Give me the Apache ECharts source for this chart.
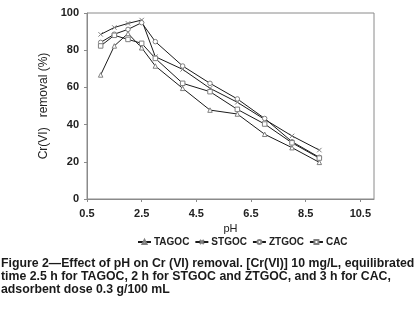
<!DOCTYPE html>
<html>
<head>
<meta charset="utf-8">
<script src="https://cdn.jsdelivr.net/npm/echarts@6/dist/echarts.min.js"></script>
<style>html,body{margin:0;padding:0;background:#fff}#c{width:418px;height:317px}</style>
</head>
<body>
<div id="c"></div>
<script>
const pH = [1, 1.5, 2, 2.5, 3, 4, 5, 6, 7, 8, 9];
const TAGOC = [66.7, 82.3, 89.0, 81.3, 71.5, 59.5, 47.8, 45.7, 34.8, 27.6, 19.7];
const STGOC = [88.5, 92.2, 94.4, 96.2, 76.5, 69.7, 59.5, 52.0, 42.8, 33.9, 26.3];
const ZTGOC = [84.2, 88.6, 91.2, 94.8, 84.6, 71.5, 62.2, 53.8, 43.3, 30.8, 22.4];
const CAC = [82.3, 88.0, 85.8, 83.7, 75.6, 62.2, 57.7, 48.2, 40.3, 30.2, 22.0];
const xTicks = [0.5, 2.5, 4.5, 6.5, 8.5, 10.5];
const yTicks = [0, 20, 40, 60, 80, 100];
const captionLines = [
  'Figure 2\u2014Effect of pH on Cr (VI) removal. [Cr(VI)] 10 mg/L, equilibrated',
  'time 2.5 h for TAGOC, 2 h for STGOC and ZTGOC, and 3 h for CAC,',
  'adsorbent dose 0.3 g/100 mL'
];

const chart = echarts.init(document.getElementById('c'));
const pair = arr => pH.map((x, i) => [x, arr[i]]);
const mk = (name, data, symbol) => ({
  name, type: 'line', data: pair(data), symbol, symbolSize: 4.5,
  lineStyle: { color: '#1a1a1a', width: 1 },
  itemStyle: { color: '#fff', borderColor: '#808080', borderWidth: 1 },
  emphasis: { disabled: true }, animation: false
});
const font = 'Liberation Sans, Arial, sans-serif';
chart.setOption({
  animation: false,
  grid: { left: 87, top: 13, width: 287, height: 186, show: true, borderColor: '#8a8a8a', borderWidth: 1 },
  xAxis: {
    type: 'value', min: 0.5, max: 11, interval: 2,
    name: 'pH', nameLocation: 'middle', nameGap: 21,
    nameTextStyle: { color: '#222', fontSize: 11, fontFamily: font },
    axisLine: { lineStyle: { color: '#8a8a8a' } },
    axisTick: { show: true, length: 3, lineStyle: { color: '#8a8a8a' } },
    axisLabel: { color: '#222', fontSize: 11, fontWeight: 'bold', fontFamily: font, margin: 9,
      showMaxLabel: false, formatter: v => xTicks.includes(+v.toFixed(1)) ? v.toFixed(1) : '' },
    splitLine: { show: false }
  },
  yAxis: {
    type: 'value', min: 0, max: 100, interval: 20,
    name: 'Cr(VI)   removal (%)', nameLocation: 'middle', nameGap: 24, nameRotate: 90,
    nameTextStyle: { color: '#222', fontSize: 12, fontFamily: font },
    axisLine: { show: true, lineStyle: { color: '#8a8a8a' } },
    axisTick: { show: true, length: 3, lineStyle: { color: '#8a8a8a' } },
    axisLabel: { color: '#222', fontSize: 11, fontWeight: 'bold', fontFamily: font, margin: 8,
      formatter: v => yTicks.includes(v) ? String(v) : '' },
    splitLine: { show: false }
  },
  legend: {
    left: 132, top: 232, itemWidth: 13, itemHeight: 5, itemGap: 5,
    textStyle: { color: '#222', fontSize: 10, fontWeight: 'bold', fontFamily: font, padding: [0,0,0,-2] },
    data: ['TAGOC', 'STGOC', 'ZTGOC', 'CAC']
  },
  series: [
    mk('TAGOC', TAGOC, 'triangle'),
    mk('STGOC', STGOC, 'path://M0,0L10,10M10,0L0,10'),
    mk('ZTGOC', ZTGOC, 'circle'),
    mk('CAC', CAC, 'rect')
  ],
  graphic: captionLines.map((t, i) => ({
    type: 'text', left: 1, top: 258 + i * 13,
    style: { text: t, fill: '#1a1a1a', font: 'bold 12.3px "Liberation Sans Narrow", "Arial Narrow", sans-serif' }
  }))
});
</script>
</body>
</html>
